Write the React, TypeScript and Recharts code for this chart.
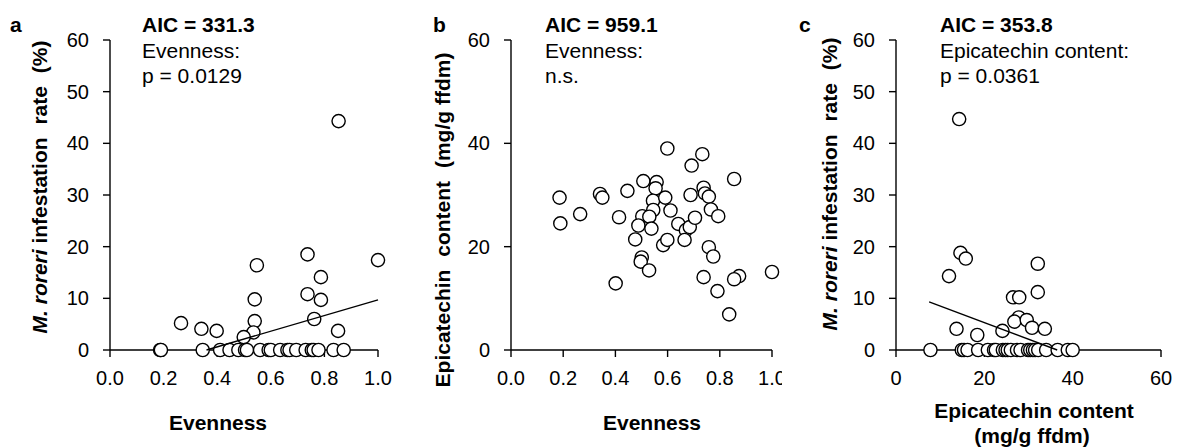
import React from "react";
import { ScatterChart, Scatter, XAxis, YAxis } from "recharts";

const FONT = '"Liberation Sans", Arial, sans-serif';

// Panel a: evenness vs infestation rate
const aEvenness = [0.853, 1.0, 0.737, 0.548, 0.787, 0.737, 0.787, 0.54, 0.762, 0.54, 0.265, 0.341, 0.398, 0.851, 0.535, 0.499,
  0.187, 0.19, 0.346, 0.411, 0.446, 0.479, 0.504, 0.511, 0.56, 0.592, 0.6, 0.635, 0.662, 0.67, 0.695, 0.73, 0.753, 0.76, 0.778, 0.834, 0.872];
const aInfestation = [44.3, 17.4, 18.5, 16.4, 14.1, 10.8, 9.7, 9.8, 6.0, 5.6, 5.2, 4.1, 3.7, 3.7, 3.4, 2.5,
  0, 0, 0, 0, 0, 0, 0, 0, 0, 0, 0, 0, 0, 0, 0, 0, 0, 0, 0, 0, 0];
const aFitX = [0.36, 1.0];
const aFitY = [0, 9.7];

// Panel b: evenness vs epicatechin content
const bEvenness = [0.186, 0.189, 0.265, 0.341, 0.35, 0.446, 0.414, 0.401, 0.507, 0.558, 0.554, 0.544, 0.545, 0.503, 0.53, 0.488,
  0.538, 0.476, 0.501, 0.497, 0.529, 0.599, 0.591, 0.611, 0.583, 0.599, 0.641, 0.67, 0.685, 0.705, 0.665, 0.692, 0.688, 0.733,
  0.738, 0.743, 0.758, 0.766, 0.794, 0.758, 0.775, 0.738, 0.791, 0.855, 0.874, 0.855, 0.836, 1.0];
const bEpicatechin = [29.5, 24.5, 26.3, 30.2, 29.5, 30.8, 25.7, 12.9, 32.7, 32.5, 31.3, 28.9, 27.1, 25.9, 25.8, 24.1,
  23.5, 21.4, 17.9, 17.1, 15.4, 39.0, 29.5, 27.0, 20.3, 21.3, 24.4, 23.2, 23.8, 25.6, 21.3, 35.7, 30.0, 37.9,
  31.4, 30.3, 29.7, 27.2, 25.9, 19.9, 18.1, 14.1, 11.4, 33.1, 14.3, 13.7, 6.9, 15.1];

// Panel c: epicatechin content vs infestation rate
const cEpicatechin = [14.3, 14.6, 15.8, 12.0, 32.1, 32.1, 26.5, 27.9, 27.8, 26.8, 29.6, 30.8, 33.7, 13.7, 24.1, 18.4,
  7.8, 14.9, 15.4, 16.2, 18.6, 20.8, 22.2, 22.6, 24.2, 24.8, 25.3, 26.0, 27.4, 28.2, 29.9, 30.4, 31.0, 31.5, 32.2, 34.0, 36.6, 38.9, 40.0];
const cInfestation = [44.7, 18.8, 17.7, 14.3, 16.7, 11.2, 10.2, 10.2, 6.3, 5.5, 5.8, 4.3, 4.1, 4.1, 3.7, 2.9,
  0, 0, 0, 0, 0, 0, 0, 0, 0, 0, 0, 0, 0, 0, 0, 0, 0, 0, 0, 0, 0, 0, 0];
const cFitX = [7.5, 36.5];
const cFitY = [9.3, 0];

const evenTicks = [0, 0.2, 0.4, 0.6, 0.8, 1.0];
const rateTicks = [0, 10, 20, 30, 40, 50, 60];
const epiTicks = [0, 20, 40, 60];

const zip = (xs: number[], ys: number[]) => xs.map((x, i) => ({ x, y: ys[i] }));

const Dot = (p: any) => (
  <circle cx={p.cx} cy={p.cy} r={6.6} fill="#fff" stroke="#000" strokeWidth={1.4} />
);
const NoDot = () => <g />;

const tickStyle = { fill: "#000", fontSize: 20, fontFamily: FONT };

type PanelProps = {
  left: number;
  width: number;
  yAxisWidth: number;
  marginRight: number;
  xTicks: number[];
  yTicks: number[];
  xDomain: [number, number];
  yDomain: [number, number];
  xFmt: (v: number) => string;
  points: { x: number; y: number }[];
  fit?: { x: number; y: number }[];
};

function Panel(props: PanelProps) {
  const { left, width, yAxisWidth, marginRight, xTicks, yTicks, xDomain, yDomain, xFmt, points, fit } = props;
  return (
    <div style={{ position: "absolute", left, top: 0, width, height: 448, overflow: "hidden", background: "#fff" }}>
      <ScatterChart width={width} height={448} margin={{ top: 40, right: marginRight, bottom: 68, left: 0 }}>
        <XAxis
          type="number"
          dataKey="x"
          domain={xDomain}
          ticks={xTicks}
          tickFormatter={xFmt}
          height={30}
          tickSize={7}
          tickMargin={14}
          axisLine={{ stroke: "#000", strokeWidth: 1.4 }}
          tickLine={{ stroke: "#000", strokeWidth: 1.4 }}
          tick={tickStyle}
          interval={0}
        />
        <YAxis
          type="number"
          dataKey="y"
          domain={yDomain}
          ticks={yTicks}
          width={yAxisWidth}
          tickSize={7}
          tickMargin={14}
          axisLine={{ stroke: "#000", strokeWidth: 1.4 }}
          tickLine={{ stroke: "#000", strokeWidth: 1.4 }}
          tick={tickStyle}
          interval={0}
        />
        <Scatter data={points} shape={Dot} isAnimationActive={false} />
        {fit ? (
          <Scatter
            data={fit}
            shape={NoDot}
            line={{ stroke: "#000", strokeWidth: 1.4 }}
            isAnimationActive={false}
          />
        ) : null}
      </ScatterChart>
    </div>
  );
}

const T = (p: { x: number; y: number; bold?: boolean; children: React.ReactNode; anchor?: string }) => (
  <text
    x={p.x}
    y={p.y}
    fontFamily={FONT}
    fontSize={21}
    fontWeight={p.bold ? "bold" : "normal"}
    textAnchor={(p.anchor as any) || "start"}
    fill="#000"
  >
    {p.children}
  </text>
);

const YLabel = (p: { cx: number; cy: number; children: React.ReactNode }) => (
  <text
    x={p.cx}
    y={p.cy}
    transform={`rotate(-90, ${p.cx}, ${p.cy})`}
    fontFamily={FONT}
    fontSize={21}
    fontWeight="bold"
    textAnchor="middle"
    dominantBaseline="central"
    fill="#000"
  >
    {p.children}
  </text>
);

const RateLabel = () => (
  <>
    <tspan fontStyle="italic">M. roreri</tspan>
    <tspan> infestation</tspan>
    <tspan dx={7}> rate</tspan>
    <tspan dx={7}> (%)</tspan>
  </>
);

export default function App() {
  const fmt1 = (v: number) => v.toFixed(1);
  const fmt0 = (v: number) => String(v);
  return (
    <div style={{ position: "absolute", left: 0, top: 0, width: 1184, height: 448, background: "#fff", overflow: "hidden" }}>
      <Panel
        left={0}
        width={400}
        yAxisWidth={110}
        marginRight={22}
        xTicks={evenTicks}
        yTicks={rateTicks}
        xDomain={[0, 1]}
        yDomain={[0, 60]}
        xFmt={fmt1}
        points={zip(aEvenness, aInfestation)}
        fit={zip(aFitX, aFitY)}
      />
      <Panel
        left={400}
        width={382}
        yAxisWidth={111}
        marginRight={10}
        xTicks={evenTicks}
        yTicks={epiTicks}
        xDomain={[0, 1]}
        yDomain={[0, 60]}
        xFmt={fmt1}
        points={zip(bEvenness, bEpicatechin)}
      />
      <Panel
        left={782}
        width={402}
        yAxisWidth={114}
        marginRight={23}
        xTicks={epiTicks}
        yTicks={rateTicks}
        xDomain={[0, 60]}
        yDomain={[0, 60]}
        xFmt={fmt0}
        points={zip(cEpicatechin, cInfestation)}
        fit={zip(cFitX, cFitY)}
      />
      <svg width={1184} height={448} style={{ position: "absolute", left: 0, top: 0, pointerEvents: "none" }}>
        <T x={10} y={32} bold>a</T>
        <T x={142} y={32} bold>AIC = 331.3</T>
        <T x={142} y={58}>Evenness:</T>
        <T x={142} y={83}>p = 0.0129</T>
        <YLabel cx={39} cy={187}>
          <RateLabel />
        </YLabel>
        <T x={218} y={430} bold anchor="middle">Evenness</T>

        <T x={433} y={32} bold>b</T>
        <T x={545} y={32} bold>AIC = 959.1</T>
        <T x={545} y={58}>Evenness:</T>
        <T x={545} y={83}>n.s.</T>
        <YLabel cx={442} cy={220}>
          <tspan>Epicatechin</tspan>
          <tspan dx={7}> content</tspan>
          <tspan dx={7}> (mg/g ffdm)</tspan>
        </YLabel>
        <T x={652} y={430} bold anchor="middle">Evenness</T>

        <T x={799} y={32} bold>c</T>
        <T x={940} y={32} bold>AIC = 353.8</T>
        <T x={940} y={58}>Epicatechin content:</T>
        <T x={940} y={83}>p = 0.0361</T>
        <YLabel cx={829} cy={184}>
          <RateLabel />
        </YLabel>
        <T x={1034} y={418} bold anchor="middle">Epicatechin content</T>
        <T x={1032} y={443} bold anchor="middle">(mg/g ffdm)</T>
      </svg>
    </div>
  );
}
